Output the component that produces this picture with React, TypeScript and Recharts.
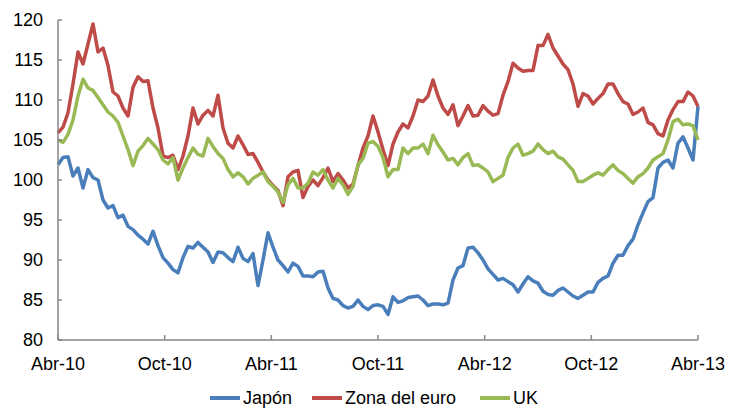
import React from "react";
import { LineChart, Line, XAxis, YAxis, Legend } from "recharts";

const tickLabels = ["Abr-10", "Oct-10", "Abr-11", "Oct-11", "Abr-12", "Oct-12", "Abr-13"];
const tickMonths = [0, 6, 12, 18, 24, 30, 36];
const yTicks = [80, 85, 90, 95, 100, 105, 110, 115, 120];

const japon = [
  101.9, 102.8, 102.9, 100.5, 101.5, 99.0, 101.3, 100.3, 100.0, 97.5,
  96.5, 96.8, 95.3, 95.6, 94.2, 93.8, 93.1, 92.6, 92.0, 93.6,
  91.8, 90.3, 89.6, 88.8, 88.4, 90.3, 91.7, 91.5, 92.2, 91.6,
  91.0, 89.7, 91.0, 90.9, 90.3, 89.8, 91.6, 90.2, 89.8, 90.8,
  86.8, 90.0, 93.4, 91.6, 90.0, 89.3, 88.5, 89.6, 89.2, 88.0,
  88.0, 87.9, 88.5, 88.6, 86.5, 85.2, 85.0, 84.3, 84.0, 84.2,
  85.0, 84.2, 83.8, 84.3, 84.4, 84.2, 83.2, 85.4, 84.7, 84.9,
  85.3, 85.4, 85.5, 85.0, 84.3, 84.5, 84.5, 84.4, 84.6, 87.5,
  89.0, 89.3, 91.5, 91.6, 90.9, 90.0, 88.9, 88.2, 87.5, 87.7,
  87.3, 86.9, 86.0, 87.0, 87.9, 87.4, 87.1, 86.1, 85.7, 85.6,
  86.2, 86.5, 86.0, 85.5, 85.2, 85.6, 86.0, 86.0, 87.2, 87.7,
  88.0, 89.6, 90.6, 90.6, 91.8, 92.6, 94.4, 95.9, 97.3, 97.8,
  101.5, 102.2, 102.5, 101.5, 104.6, 105.4, 104.0, 102.5, 109.2,
];

const zonaEuro = [
  105.9, 106.6, 108.4, 112.0, 116.0, 114.5, 117.0, 119.5, 116.0, 116.5,
  114.3, 111.0, 110.5, 109.0, 108.0, 111.6, 112.9, 112.3, 112.4, 109.0,
  106.5, 103.0, 102.8, 103.1, 101.3, 103.0, 105.5, 109.0, 107.0, 108.1,
  108.7, 108.0, 110.6, 106.5, 104.6, 104.0, 105.5, 104.4, 103.2, 103.3,
  102.2, 101.0, 100.0, 99.3, 98.7, 96.8, 100.4, 101.0, 101.2, 97.8,
  99.2, 100.0, 99.3, 100.3, 101.5, 99.8, 100.8, 100.0, 99.0, 99.5,
  101.8, 104.0, 105.5, 108.0, 106.0, 103.8, 101.8, 104.5, 106.0, 107.0,
  106.5, 108.0, 110.0, 109.8, 110.5, 112.5, 110.5, 109.0, 108.2, 109.4,
  106.8, 108.0, 109.3, 108.0, 108.1, 109.3, 108.6, 108.1, 108.3, 110.6,
  112.3, 114.6, 114.0, 113.6, 113.7, 113.7, 116.8, 116.8, 118.2, 116.5,
  115.5, 114.5, 113.8, 112.0, 109.2, 110.8, 110.5, 109.5, 110.2, 110.8,
  112.0, 112.0, 110.8, 109.8, 109.5, 108.2, 108.5, 109.0, 107.2, 106.9,
  105.8, 105.5, 107.5, 108.8, 109.8, 109.8, 111.0, 110.5, 109.2,
];

const uk = [
  105.0, 104.7, 105.7, 107.5, 110.5, 112.6, 111.5, 111.2, 110.3, 109.4,
  108.5, 108.0, 107.2, 105.5, 103.8, 101.8, 103.6, 104.3, 105.2, 104.5,
  103.8, 102.5, 102.0, 102.8, 100.0, 101.5, 102.8, 104.0, 103.2, 103.0,
  105.2, 104.2, 103.3, 102.7, 101.3, 100.4, 100.9, 100.4, 99.5, 100.2,
  100.6, 101.0, 99.8, 99.2, 98.5, 97.2, 99.4, 100.2, 99.0, 99.0,
  99.6, 101.0, 100.6, 101.3, 100.0, 99.0, 100.2, 99.4, 98.2, 99.2,
  101.9, 102.7, 104.6, 104.8, 104.2, 102.8, 100.4, 101.3, 101.3, 104.0,
  103.3, 104.0, 104.0, 104.5, 103.3, 105.6, 104.4, 103.5, 102.5, 102.7,
  101.9, 102.8, 103.3, 101.8, 101.9, 101.5, 101.0, 99.8, 100.2, 100.6,
  102.8, 104.0, 104.5, 103.1, 103.3, 103.6, 104.5, 103.8, 103.3, 103.6,
  102.9, 102.6, 101.9, 101.2, 99.8, 99.8, 100.2, 100.6, 100.9, 100.6,
  101.3, 101.9, 101.2, 100.8, 100.2, 99.6, 100.4, 100.8, 101.5, 102.5,
  102.9, 103.3, 105.0, 107.3, 107.6, 106.9, 107.0, 106.8, 105.0,
];

const seriesNames = ["Japón", "Zona del euro", "UK"];
const seriesColors = ["#4A7EBB", "#BE4B48", "#98B954"];
const seriesKeys = ["japon", "euro", "uk"];

const data = japon.map((v, i) => ({
  t: (i * 36) / (japon.length - 1),
  japon: v,
  euro: zonaEuro[i],
  uk: uk[i],
}));

const FONT = "'Liberation Sans', Arial, sans-serif";
const FS = 18;
const legendLeft = [210, 312, 480];

const LegendContent = () => (
  <div style={{ position: "relative", width: 730, height: 24, fontFamily: FONT, fontSize: FS, color: "#000" }}>
    {seriesNames.map((name, i) => (
      <div
        key={name}
        style={{ position: "absolute", left: legendLeft[i], top: 0, height: 24, display: "flex", alignItems: "center", whiteSpace: "nowrap" }}
      >
        <div style={{ width: 30, height: 3.5, background: seriesColors[i], marginRight: 3 }} />
        <span>{name}</span>
      </div>
    ))}
  </div>
);

export default function App() {
  return (
    <div style={{ position: "absolute", left: 0, top: 0, width: 730, height: 409, background: "#fff" }}>
      <LineChart width={730} height={409} data={data} margin={{ top: 20, right: 32, bottom: 39, left: 0 }}>
        <XAxis
          dataKey="t"
          type="number"
          domain={[0, 36]}
          ticks={tickMonths}
          interval={0}
          tickFormatter={(v: number) => tickLabels[tickMonths.indexOf(v)] ?? ""}
          height={30}
          tickSize={-5}
          tickMargin={22}
          stroke="#868686"
          strokeWidth={1.5}
          tick={{ fill: "#000", fontSize: FS, fontFamily: FONT }}
        />
        <YAxis
          type="number"
          domain={[80, 120]}
          ticks={yTicks}
          interval={0}
          width={58}
          tickSize={-4}
          tickMargin={19}
          stroke="#868686"
          strokeWidth={1.5}
          allowDataOverflow
          tick={{ fill: "#000", fontSize: FS, fontFamily: FONT }}
        />
        <Legend
          verticalAlign="middle"
          content={<LegendContent />}
          wrapperStyle={{ position: "absolute", left: 0, top: 386, width: 730, height: 24 }}
        />
        {seriesKeys.map((k, i) => (
          <Line
            key={k}
            type="linear"
            dataKey={k}
            name={seriesNames[i]}
            stroke={seriesColors[i]}
            strokeWidth={3.5}
            strokeLinejoin="round"
            dot={false}
            activeDot={false}
            isAnimationActive={false}
          />
        ))}
      </LineChart>
    </div>
  );
}
